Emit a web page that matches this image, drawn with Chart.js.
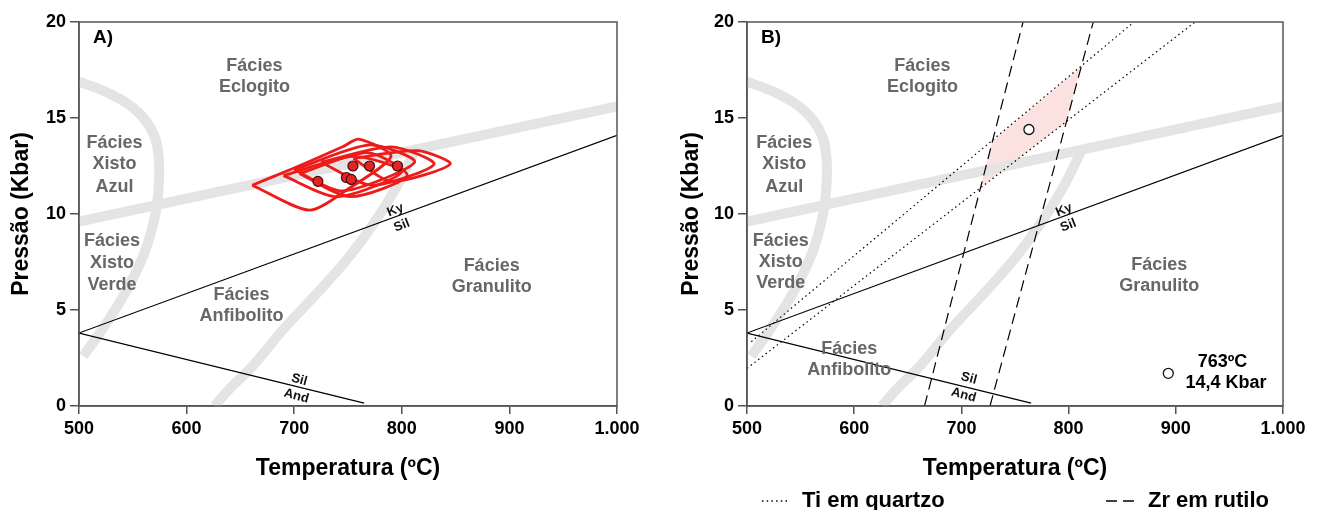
<!DOCTYPE html>
<html><head><meta charset="utf-8">
<script src="https://cdn.jsdelivr.net/npm/chart.js@4.4.1/dist/chart.umd.min.js"></script>
<style>
html,body{margin:0;padding:0;background:#fff;width:1325px;height:510px;overflow:hidden}
#wa{position:absolute;left:0;top:0;width:660px;height:510px}
#wb{position:absolute;left:660px;top:0;width:665px;height:510px}
</style></head><body>
<div id="wa"><canvas id="ca"></canvas></div>
<div id="wb"><canvas id="cb"></canvas></div>
<script>
// ---- axes ----
const xTicks=[500,600,700,800,900,1000];
const xTickText=['500','600','700','800','900','1.000'];
const yTicks=[0,5,10,15,20];
const yTickText=['0','5','10','15','20'];
const xTitle='Temperatura (ºC)';
const yTitle='Pressão (Kbar)';

// ---- reaction lines (T ºC, P kbar) ----
const kySil=[[500,3.8],[1000,14.1]];
const silAnd=[[500,3.8],[765,0.15]];

// ---- facies boundary bands (grey) ----
const bandEclogite=[[500,9.6],[1000,15.6]];
const bandBlueschist=[[500,16.9],[531,16.2],[555,15.3],[569,14.2],[574,13.0],[574,11.4],[571,10.0],[561,8.0],[543,5.9],[523,4.1],[504,2.6]];
const bandGranulite=[[626,0],[640,0.9],[660,2.0],[690,4.0],[720,5.8],[750,7.7],[775,9.6],[795,11.4],[812,13.3]];

// ---- panel A: P-T results (red) ----
const ptPoints=[[722,11.7],[754.6,12.5],[748.5,11.9],[753,11.8],[770,12.5],[796,12.5]];
const shape1=[[661,11.5],[700,12.4],[745,13.5],[760,13.9],[790,13.0],[750,11.3],[714,10.2],[661,11.5]];
const shape2=[[700,12.3],[770,13.6],[812,12.7],[745,11.2],[700,12.3]];
const shape3=[[690,12.0],[755,13.0],[800,12.2],[740,10.9],[690,12.0]];
const shape4=[[705,12.1],[768,13.2],[805,12.0],[752,10.9],[705,12.1]];
const shape5=[[725,12.7],[790,13.5],[830,12.6],[772,11.5],[725,12.7]];
const shape6=[[755,12.9],[815,13.3],[845,12.6],[790,11.7],[755,12.9]];
const shapesA=[shape1,shape2,shape3,shape4,shape5,shape6];

// ---- panel B: thermometers ----
const tiQtzUpper=[[504,3.35],[861,20]];
const tiQtzLower=[[500,1.96],[918,20]];
const zrRtLeft=[[665.6,0],[757.5,20]];
const zrRtRight=[[726.7,0],[823,20]];
const overlap=[[729,13.8],[812,17.7],[798,14.8],[718,11.4],[729,13.8]];
const resultB=[[763,14.4]];
const keyMarkerB=[[893,1.7]];

// ---- text labels ----
const labelsA=[
 ['Fácies',663,17.7],['Eclogito',663,16.6],
 ['Fácies',533,13.7],['Xisto',533,12.6],['Azul',533,11.4],
 ['Fácies',530.6,8.57],['Xisto',530.6,7.44],['Verde',530.6,6.3],
 ['Fácies',651,5.79],['Anfibolito',651,4.66],
 ['Fácies',883.5,7.3],['Granulito',883.5,6.2]];
const labelsB=[
 ['Fácies',663.6,17.7],['Eclogito',663.6,16.6],
 ['Fácies',534.7,13.7],['Xisto',534.7,12.6],['Azul',534.7,11.4],
 ['Fácies',531.5,8.6],['Xisto',531.5,7.5],['Verde',531.5,6.4],
 ['Fácies',595.4,2.95],['Anfibolito',595.4,1.88],
 ['Fácies',884.5,7.35],['Granulito',884.5,6.26]];
const reactA=[['Ky',794,10.2,-22],['Sil',800,9.4,-22],['Sil',704.7,1.36,15],['And',702,0.52,15]];
const reactB=[['Ky',795.7,10.2,-22],['Sil',799.7,9.4,-22],['Sil',707,1.44,15],['And',702,0.57,15]];
const resultText=[['763ºC',943.6,2.31],['14,4 Kbar',946.8,1.18]];
const legendB=[['Ti em quartzo','dot'],['Zr em rutilo','dash']];

const FONT='"Liberation Sans", Arial, sans-serif';
const pts=a=>a.map(([x,y])=>({x,y}));
function line(a,o){return Object.assign({data:pts(a),showLine:true,pointRadius:0,borderColor:'#000',borderWidth:1.2,fill:false,clip:0,tension:0},o);}

const band={borderColor:'#e4e4e4',borderWidth:10,borderCapStyle:'butt',order:20};

function datasetsA(){
  const d=[
    line(bandEclogite,band),
    line(bandBlueschist,Object.assign({},band,{tension:0.4})),
    line(bandGranulite,Object.assign({},band,{tension:0.4})),
    line(kySil,{order:10}),
    line(silAnd,{order:10})];
  shapesA.forEach(s=>d.push(line(s,{borderColor:'#ee1b1b',borderWidth:2.8,tension:0.25,borderJoinStyle:'round',order:5})));
  d.push({data:pts(ptPoints),showLine:false,pointRadius:5,pointBackgroundColor:'#e32424',pointBorderColor:'#4a0a0a',pointBorderWidth:1.2,clip:0,order:1});
  return d;
}
function datasetsB(){
  return [
    line(overlap,{fill:'shape',backgroundColor:'rgba(246,170,170,0.35)',borderWidth:0,borderColor:'rgba(0,0,0,0)',order:25}),
    line(bandEclogite,band),
    line(bandBlueschist,Object.assign({},band,{tension:0.4})),
    line(bandGranulite,Object.assign({},band,{tension:0.4})),
    line(kySil,{order:10}),
    line(silAnd,{order:10}),
    line(tiQtzUpper,{borderDash:[1.5,3.2],order:8}),
    line(tiQtzLower,{borderDash:[1.5,3.2],order:8}),
    line(zrRtLeft,{borderDash:[11,6],order:8}),
    line(zrRtRight,{borderDash:[11,6],order:8}),
    {data:pts(resultB.concat(keyMarkerB)),showLine:false,pointRadius:5,pointBackgroundColor:'#fff',pointBorderColor:'#111',pointBorderWidth:1.3,clip:0,order:1}
  ];
}

const textPlugin={
  id:'txt',
  afterDatasetsDraw(chart,args,opt){
    const {ctx,scales:{x,y},chartArea:ca}=chart;
    ctx.save();
    ctx.textAlign='center';ctx.textBaseline='middle';
    ctx.fillStyle='#676767';ctx.font='bold 18px '+FONT;
    opt.facies.forEach(([t,a,b])=>ctx.fillText(t,x.getPixelForValue(a),y.getPixelForValue(b)));
    ctx.fillStyle='#111';ctx.font='bold 13px '+FONT;
    opt.react.forEach(([t,a,b,r])=>{ctx.save();ctx.translate(x.getPixelForValue(a),y.getPixelForValue(b));ctx.rotate(r*Math.PI/180);ctx.fillText(t,0,0);ctx.restore();});
    ctx.fillStyle='#000';ctx.font='bold 18px '+FONT;
    (opt.extra||[]).forEach(([t,a,b])=>ctx.fillText(t,x.getPixelForValue(a),y.getPixelForValue(b)));
    ctx.textAlign='left';ctx.font='bold 19px '+FONT;
    ctx.fillText(opt.tag,ca.left+14,38);
    // frame
    ctx.strokeStyle='#555';ctx.lineWidth=1.5;
    ctx.strokeRect(ca.left,ca.top,ca.right-ca.left,ca.bottom-ca.top);
    // legend
    if(opt.legend){
      ctx.fillStyle='#000';ctx.font='bold 22px '+FONT;ctx.textBaseline='middle';
      opt.legend.forEach(([t,k],i)=>{
        const x0=i===0?102:446, ty=501;
        ctx.strokeStyle='#000';ctx.lineWidth=1.3;
        ctx.setLineDash(k==='dot'?[1.5,3.2]:[11,6]);
        ctx.beginPath();ctx.moveTo(x0,ty);ctx.lineTo(x0+(k==='dot'?27:30),ty);ctx.stroke();
        ctx.setLineDash([]);
        ctx.fillText(t,x0+(k==='dot'?40:42),ty);
      });
    }
    ctx.restore();
  }
};

function makeChart(id,datasets,yw,rightPad,yTitlePad,extra){
  return new Chart(document.getElementById(id),{
    type:'scatter',
    data:{datasets},
    plugins:[textPlugin],
    options:{
      responsive:true,maintainAspectRatio:false,animation:false,events:[],
      layout:{padding:{left:0,right:rightPad,top:22,bottom:0}},
      plugins:{legend:{display:false},tooltip:{enabled:false},txt:extra},
      scales:{
        x:{type:'linear',min:500,max:1000,
          afterBuildTicks:s=>{s.ticks=xTicks.map(v=>({value:v}));},
          afterFit:s=>{s.height=104;},
          ticks:{color:'#000',font:{family:FONT,weight:'bold',size:18},padding:4,maxRotation:0,
            callback:v=>xTickText[xTicks.indexOf(v)]},
          grid:{display:true,drawOnChartArea:false,drawTicks:true,tickLength:8,color:'#555',lineWidth:1.5},
          border:{display:true,color:'#555',width:1.5},
          title:{display:true,text:xTitle,color:'#000',font:{family:FONT,weight:'bold',size:23},padding:{top:0,bottom:28}}},
        y:{type:'linear',min:0,max:20,
          afterBuildTicks:s=>{s.ticks=yTicks.map(v=>({value:v}));},
          afterFit:s=>{s.width=yw;},
          ticks:{color:'#000',font:{family:FONT,weight:'bold',size:18},padding:4,
            callback:v=>yTickText[yTicks.indexOf(v)]},
          grid:{display:true,drawOnChartArea:false,drawTicks:true,tickLength:9,color:'#555',lineWidth:1.5},
          border:{display:true,color:'#555',width:1.5},
          title:{display:true,text:yTitle,color:'#000',font:{family:FONT,weight:'bold',size:23},padding:{top:yTitlePad,bottom:0}}}
      }
    }
  });
}
makeChart('ca',datasetsA(),79,43,8,{facies:labelsA,react:reactA,tag:'A)'});
makeChart('cb',datasetsB(),87,42,18,{facies:labelsB,react:reactB,extra:resultText,tag:'B)',legend:legendB});
</script>
</body></html>
